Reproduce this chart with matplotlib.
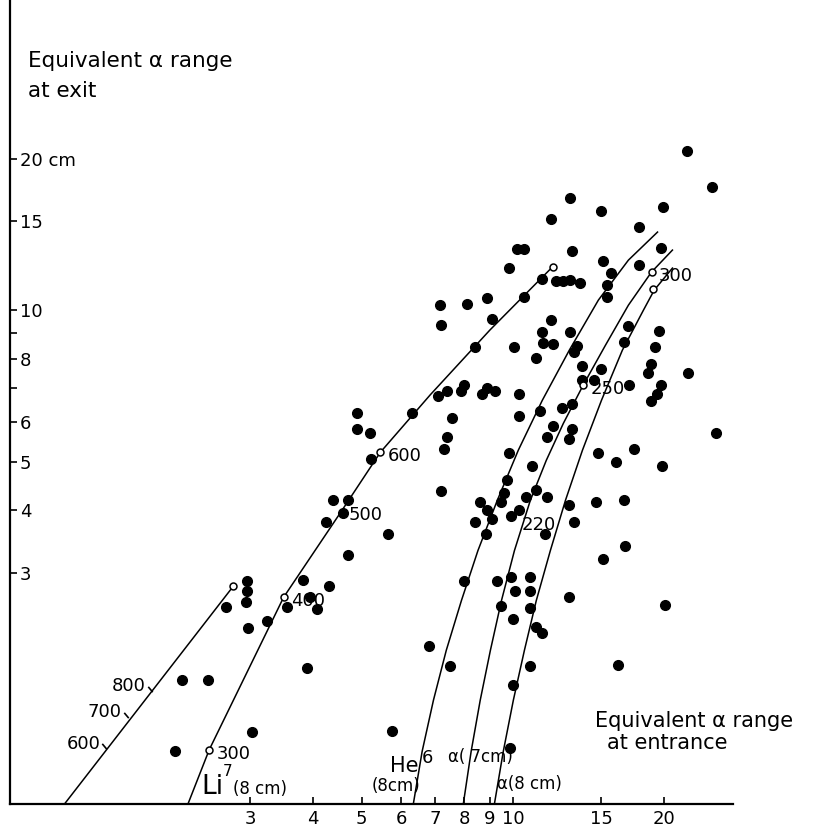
import numpy as np
import matplotlib
matplotlib.use("Agg")
import matplotlib.pyplot as plt

plt.rcParams['font.family'] = ['DejaVu Sans']

# measured events: equivalent alpha range at entrance (x) and exit (y), cm
ent = [22.2, 24.9, 19.9, 13.0, 15.0, 17.85, 11.9, 10.2, 10.5, 13.1, 19.7, 15.1,
       9.8, 17.8, 15.7, 15.35, 11.4, 12.2, 12.6, 13.0, 13.6, 15.35, 10.5, 8.9,
       8.1, 7.17, 7.2, 9.1, 11.9, 13.0, 16.9, 11.4, 11.5, 12.0, 13.4, 13.2,
       10.05, 8.4, 19.2, 19.5, 16.6, 13.7, 15.0, 18.8, 18.6, 11.1, 8.0, 7.9,
       8.9, 9.2, 8.7, 7.4, 7.1, 7.55, 6.3, 10.3, 13.7, 14.5, 19.7, 19.3, 18.8,
       17.0, 11.3, 12.5, 13.1, 10.3, 12.0, 13.1, 12.9, 11.7, 14.75, 22.3, 25.4,
       17.4, 19.8, 16.0, 9.8, 10.9, 9.75, 7.3, 7.4, 9.6, 9.45, 7.2, 8.9, 9.1,
       8.6, 9.9, 10.6, 11.1, 10.3, 12.9, 14.6, 16.6, 11.7, 8.4, 8.85, 13.2,
       11.6, 16.7, 15.1, 8.0, 9.9, 9.3, 10.8, 10.8, 10.1, 9.45, 10.8, 12.9,
       10.0, 11.1, 11.4, 6.8, 7.5, 10.8, 16.2, 20.1, 10.0, 5.75, 9.88,
       5.22, 4.38, 4.7, 4.6, 4.25, 4.7, 5.65, 4.9, 4.9, 5.2, 2.96, 2.96, 2.94,
       2.69, 2.97, 3.24, 3.83, 3.95, 4.08, 4.3, 3.9, 2.2, 2.48, 2.13, 3.03, 3.55]
ext = [20.7, 17.6, 16.0, 16.7, 15.7, 14.6, 15.2, 13.2, 13.2, 13.1, 13.3, 12.5,
       12.1, 12.3, 11.85, 11.2, 11.55, 11.4, 11.4, 11.5, 11.3, 10.6, 10.6, 10.55,
       10.3, 10.25, 9.33, 9.6, 9.55, 9.05, 9.3, 9.05, 8.6, 8.55, 8.5, 8.25,
       8.45, 8.45, 8.45, 9.1, 8.65, 7.75, 7.65, 7.8, 7.5, 8.05, 7.1, 6.9,
       7.0, 6.9, 6.8, 6.9, 6.75, 6.1, 6.25, 6.8, 7.25, 7.25, 7.1, 6.8, 6.6,
       7.1, 6.3, 6.4, 6.5, 6.15, 5.9, 5.8, 5.55, 5.6, 5.2, 7.5, 5.7,
       5.3, 4.9, 5.0, 5.2, 4.9, 4.6, 5.3, 5.6, 4.33, 4.15, 4.37, 4.0, 3.85,
       4.15, 3.9, 4.25, 4.4, 4.0, 4.1, 4.15, 4.2, 4.25, 3.8, 3.6, 3.8,
       3.6, 3.4, 3.2, 2.9, 2.95, 2.9, 2.95, 2.77, 2.77, 2.58, 2.56, 2.69,
       2.43, 2.35, 2.28, 2.15, 1.96, 1.96, 1.97, 2.6, 1.8, 1.46, 1.35,
       5.07, 4.19, 4.19, 3.96, 3.8, 3.26, 3.6, 6.25, 5.8, 5.7, 2.9, 2.77, 2.63,
       2.57, 2.34, 2.41, 2.91, 2.69, 2.55, 2.83, 1.95, 1.84, 1.84, 1.33, 1.45, 2.57]

# calibration points (open circles)
cal_ent = [2.78, 2.49, 3.5, 5.45, 12.0, 18.9, 18.95, 13.8]
cal_ext = [2.83, 1.34, 2.69, 5.22, 12.2, 11.9, 11.0, 7.1]

# range-range curves
line_ent = [1.285, 2.78]
line_ext = [1.047, 2.83]
line_marks = ["800", "700", "600"]
line_mark_ent = [1.90, 1.70, 1.54]
line_mark_ext = [1.77, 1.57, 1.36]

li7_ent = [2.26, 2.49, 3.5, 4.57, 5.45, 6.85, 9.0, 12.0]
li7_ext = [1.047, 1.34, 2.69, 4.0, 5.22, 6.79, 9.13, 12.2]

he6_ent = [6.34, 6.60, 6.95, 7.37, 7.90, 8.52, 9.31, 10.25, 11.44, 12.95,
           14.79, 16.97, 19.39]
he6_ext = [1.047, 1.33, 1.68, 2.11, 2.65, 3.33, 4.19, 5.27, 6.62, 8.33,
           10.47, 12.57, 14.29]

a7_ent = [7.97, 8.26, 8.61, 9.02, 9.49, 10.07, 10.83, 11.65, 12.6, 13.8,
          15.28, 16.97, 18.86, 20.76]
a7_ext = [1.047, 1.33, 1.68, 2.11, 2.65, 3.33, 4.19, 5.03, 5.96, 7.1,
          8.52, 10.23, 11.9, 13.16]

a8_ent = [9.19, 9.57, 10.02, 10.54, 11.13, 11.87, 12.72, 13.75, 15.0, 16.51,
          18.18, 19.1, 20.76]
a8_ext = [1.047, 1.33, 1.68, 2.11, 2.65, 3.33, 4.19, 5.27, 6.62, 8.33,
          10.0, 10.96, 12.12]

xticks = [3, 4, 5, 6, 7, 8, 9, 10, 15, 20]
yticks = [3, 4, 5, 6, 7, 8, 9, 10, 15, 20]
ylabels = ["3", "4", "5", "6", "", "8", "", "10", "15", "20 cm"]

fig = plt.figure(figsize=(8.23, 8.27), dpi=100)
ax = fig.add_axes([0.0122, 0.0278, 0.8785, 0.9722])
ax.set_xscale('log')
ax.set_yscale('log')
ax.set_xlim(1.0, 27.4)
ax.set_ylim(1.045, 41.3)
for s in ['top', 'right']:
    ax.spines[s].set_visible(False)
for s in ['left', 'bottom']:
    ax.spines[s].set_linewidth(1.6)

ax.set_xticks(xticks)
ax.set_xticklabels([str(t) for t in xticks])
ax.set_yticks(yticks)
ax.set_yticklabels(ylabels)
ax.minorticks_off()
ax.tick_params(axis='x', direction='in', length=5, width=1.2, pad=4, labelsize=13)
ax.tick_params(axis='y', direction='in', length=5, width=1.2, pad=-7, labelsize=13)
for lbl in ax.get_yticklabels():
    lbl.set_horizontalalignment('left')

lw = 1.1
for xs, ys in [(line_ent, line_ext), (li7_ent, li7_ext), (he6_ent, he6_ext),
               (a7_ent, a7_ext), (a8_ent, a8_ext)]:
    ax.plot(xs, ys, color='black', lw=lw, solid_joinstyle='round')

ax.plot(ent, ext, 'o', color='black', ms=7, ls='none')
ax.plot(cal_ent, cal_ext, 'o', mfc='white', mec='black', mew=1.1, ms=5, ls='none')

# energy marks along the left line
for t, xe, ye in zip(line_marks, line_mark_ent, line_mark_ext):
    ax.plot([xe], [ye], marker=(2, 0, 40), color='black', ms=5, mew=1.2)
    ax.annotate(t, (xe, ye), xytext=(-3, 2), textcoords='offset points',
                ha='right', va='center', fontsize=13)

# energy labels along the curves
for t, xe, ye in [("300", 2.49, 1.34), ("400", 3.5, 2.69), ("500", 4.57, 4.0),
                  ("600", 5.45, 5.22), ("300", 18.9, 11.9), ("250", 13.8, 7.1),
                  ("220", 10.1, 3.82)]:
    ax.annotate(t, (xe, ye), xytext=(5, -3), textcoords='offset points',
                ha='left', va='center', fontsize=13)

ax.text(0.034, 0.919, "Equivalent α range", transform=fig.transFigure, fontsize=15.5)
ax.text(0.034, 0.883, "at exit", transform=fig.transFigure, fontsize=15.5)
ax.text(0.723, 0.121, "Equivalent α range", transform=fig.transFigure, fontsize=15)
ax.text(0.738, 0.094, "at entrance", transform=fig.transFigure, fontsize=15)

ax.text(0.245, 0.04, "Li", transform=fig.transFigure, fontsize=19)
ax.text(0.271, 0.062, "7", transform=fig.transFigure, fontsize=11)
ax.text(0.283, 0.04, "(8 cm)", transform=fig.transFigure, fontsize=12)
ax.text(0.474, 0.066, "He", transform=fig.transFigure, fontsize=15)
ax.text(0.512, 0.077, "6", transform=fig.transFigure, fontsize=13)
ax.text(0.452, 0.043, "(8cm)", transform=fig.transFigure, fontsize=12)
ax.text(0.544, 0.079, "α( 7cm)", transform=fig.transFigure, fontsize=12)
ax.text(0.604, 0.046, "α(8 cm)", transform=fig.transFigure, fontsize=12)

fig.savefig("out.png", dpi=100)
